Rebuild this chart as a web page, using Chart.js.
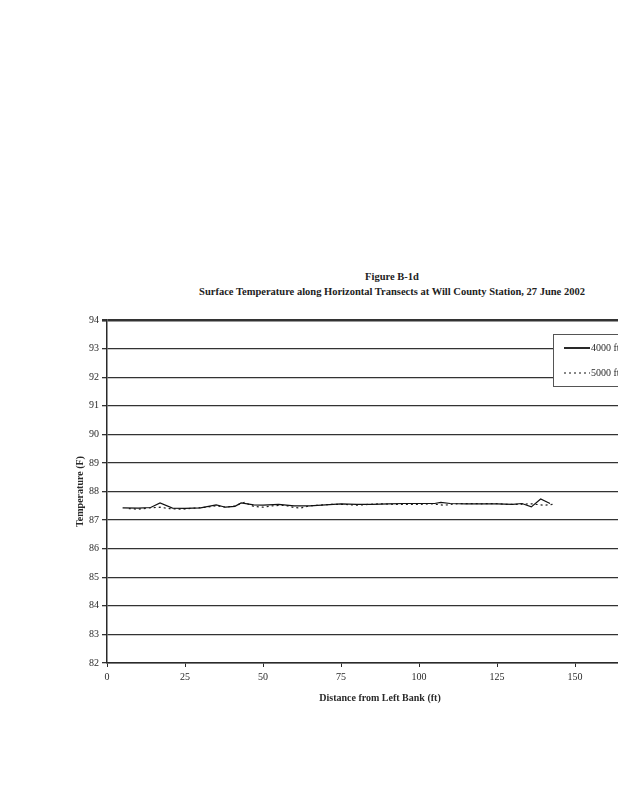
<!DOCTYPE html>
<html>
<head>
<meta charset="utf-8">
<script src="https://cdn.jsdelivr.net/npm/chart.js@4.4.0/dist/chart.umd.min.js"></script>
<style>
    html, body { margin: 0; padding: 0; background: #fff; overflow: hidden; }
    body { width: 618px; height: 800px; position: relative; }
    .title {
        position: absolute; left: 92px; width: 600px; top: 269px;
        text-align: center; font-family: "Liberation Serif", serif;
        font-weight: bold; font-size: 10.5px; line-height: 15px; color: #222;
    }
    #wrap { position: absolute; left: 0; top: 300px; }
</style>
</head>
<body>
<div class="title">Figure B-1d<br>Surface Temperature along Horizontal Transects at Will County Station, 27 June 2002</div>
<div id="wrap"><canvas id="tempChart" width="680" height="420"></canvas></div>
<script>
// Distance from left bank (ft) and surface temperature (F)
const dist4000 = [5, 10, 14, 17, 21, 25, 30, 35, 38, 41, 43, 47, 50, 55, 60, 65, 70, 75, 80, 85, 90, 95, 100, 105, 107, 110, 115, 120, 125, 130, 133, 136, 139, 142];
const temp4000 = [87.43, 87.42, 87.44, 87.6, 87.42, 87.41, 87.43, 87.53, 87.45, 87.48, 87.6, 87.53, 87.52, 87.55, 87.5, 87.5, 87.53, 87.57, 87.55, 87.55, 87.57, 87.58, 87.58, 87.58, 87.62, 87.58, 87.57, 87.57, 87.57, 87.55, 87.58, 87.46, 87.74, 87.58];
const dist5000 = [7, 10, 13, 17, 20, 24, 28, 32, 35, 38, 41, 44, 47, 50, 53, 57, 60, 62, 65, 68, 72, 76, 80, 84, 88, 92, 96, 100, 104, 108, 112, 116, 120, 124, 128, 132, 136, 140, 143];
const temp5000 = [87.4, 87.38, 87.42, 87.45, 87.4, 87.38, 87.42, 87.45, 87.5, 87.45, 87.5, 87.62, 87.48, 87.45, 87.5, 87.52, 87.44, 87.42, 87.5, 87.52, 87.55, 87.55, 87.52, 87.55, 87.57, 87.55, 87.55, 87.55, 87.57, 87.52, 87.57, 87.58, 87.57, 87.58, 87.55, 87.55, 87.57, 87.52, 87.55];
const seriesLabels = ['4000 ft', '5000 ft'];
const xTicks = [0, 25, 50, 75, 100, 125, 150, 175];
const yTicks = [82, 83, 84, 85, 86, 87, 88, 89, 90, 91, 92, 93, 94];

const serif = '"Liberation Serif", "Times New Roman", serif';
const ink = '#2a2a2a';

function toPoints(xs, ys) {
    return xs.map((x, i) => ({ x: x, y: ys[i] }));
}

// legend box drawn inside the plot, near the top right
const boxLegend = {
    id: 'boxLegend',
    afterDraw(chart) {
        const c = chart.ctx;
        const left = 553, top = 34, w = 120, h = 52;
        c.save();
        c.fillStyle = '#fff';
        c.fillRect(left, top, w, h);
        c.strokeStyle = '#555';
        c.lineWidth = 1;
        c.strokeRect(left + 0.5, top + 0.5, w, h);
        c.font = '10px ' + serif;
        c.fillStyle = ink;
        c.textBaseline = 'middle';
        chart.data.datasets.forEach((ds, i) => {
            const y = top + 14 + i * 25;
            c.beginPath();
            c.strokeStyle = '#111';
            c.lineWidth = i === 0 ? 1.8 : 1.2;
            c.setLineDash(ds.borderDash || []);
            c.moveTo(left + 11, y);
            c.lineTo(left + 37, y);
            c.stroke();
            c.setLineDash([]);
            c.fillText(ds.label, left + 38, y);
        });
        c.restore();
    }
};

const ctx = document.getElementById('tempChart').getContext('2d');
new Chart(ctx, {
    type: 'line',
    data: {
        datasets: [{
            label: seriesLabels[0],
            data: toPoints(dist4000, temp4000),
            borderColor: '#111',
            borderWidth: 1.2,
            pointRadius: 0,
            tension: 0,
            fill: false
        }, {
            label: seriesLabels[1],
            data: toPoints(dist5000, temp5000),
            borderColor: '#222',
            borderWidth: 1.2,
            borderDash: [2, 3],
            pointRadius: 0,
            tension: 0,
            fill: false
        }]
    },
    options: {
        responsive: false,
        animation: false,
        layout: { padding: { left: 70, top: 20, right: 27, bottom: 12 } },
        plugins: {
            legend: { display: false },
            title: { display: false },
            tooltip: { enabled: false }
        },
        scales: {
            x: {
                type: 'linear',
                min: 0,
                max: 175,
                afterBuildTicks: (scale) => { scale.ticks = xTicks.map(v => ({ value: v })); },
                afterFit: (scale) => { scale.height = 45; },
                ticks: {
                    color: ink,
                    font: { family: serif, size: 10 },
                    padding: 4
                },
                grid: { drawOnChartArea: false, color: ink, tickLength: 4 },
                border: { color: ink, width: 1.5 },
                title: {
                    display: true,
                    text: 'Distance from Left Bank (ft)',
                    color: ink,
                    font: { family: serif, size: 10, weight: 'bold' },
                    padding: { top: 10 }
                }
            },
            y: {
                min: 82,
                max: 94,
                afterBuildTicks: (scale) => { scale.ticks = yTicks.map(v => ({ value: v })); },
                afterFit: (scale) => { scale.width = 37; },
                ticks: {
                    color: ink,
                    font: { family: serif, size: 10 },
                    padding: 3
                },
                grid: {
                    color: '#333',
                    lineWidth: (c) => (c.tick && c.tick.value === 94 ? 2.6 : 1.3),
                    tickLength: 5
                },
                border: { color: ink, width: 1.5 },
                title: {
                    display: true,
                    text: 'Temperature (F)',
                    color: ink,
                    font: { family: serif, size: 10, weight: 'bold' },
                    padding: { bottom: 6 }
                }
            }
        }
    },
    plugins: [boxLegend]
});
</script>
</body>
</html>
